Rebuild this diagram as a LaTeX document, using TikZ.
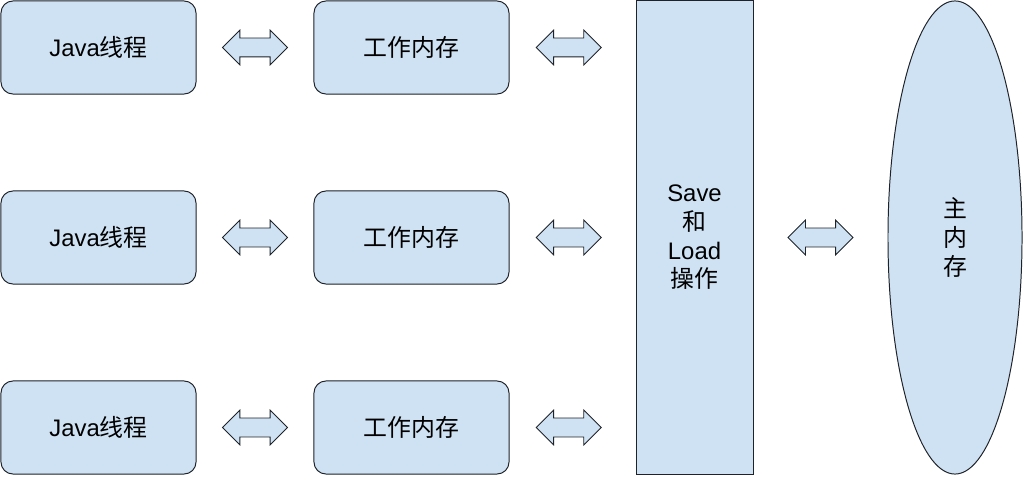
\documentclass[tikz,border=0pt]{standalone}
\usepackage{fontspec}
\setmainfont{Liberation Sans}
\newfontfamily\cjk{Noto Sans CJK SC}
\usepackage{tikz}
\usetikzlibrary{shapes.geometric,shapes.arrows,calc}
\definecolor{boxfill}{HTML}{CFE2F3}
\definecolor{boxline}{HTML}{1F2329}

\begin{document}
\begin{tikzpicture}[
    x=0.025cm,y=-0.025cm,
    font=\fontsize{17}{20.4}\selectfont,
    thread/.style={draw=boxline,fill=boxfill,line width=0.7pt,rounded corners=0.3cm,align=center,minimum width=4.875cm,minimum height=2.325cm,inner sep=0pt},
    ops/.style={draw=boxline,fill=boxfill,line width=0.7pt,align=center,minimum width=2.925cm,minimum height=11.825cm,inner sep=0pt},
    mem/.style={ellipse,draw=boxline,fill=boxfill,line width=0.7pt,align=center,minimum width=3.35cm,minimum height=11.825cm,inner sep=0pt,font=\fontsize{17}{20.4}\selectfont\cjk},
    link/.style={double arrow,draw=boxline,fill=boxfill,line width=0.6pt,double arrow head extend=0.2cm,inner xsep=0pt,inner ysep=0.225cm,minimum height=1.625cm}
]
\useasboundingbox (0,0) rectangle (1026,478);
\node[thread] (java1) at (98.5,47.5) {Java{\cjk 线程}};
\node[thread] (java2) at (98.5,237.5) {Java{\cjk 线程}};
\node[thread] (java3) at (98.5,427.5) {Java{\cjk 线程}};
\node[thread] (work1) at (411.5,47.5) {\cjk 工作内存};
\node[thread] (work2) at (411.5,237.5) {\cjk 工作内存};
\node[thread] (work3) at (411.5,427.5) {\cjk 工作内存};
\node[ops] (saveload) at (694.5,237.5) {Save\\{\cjk 和}\\Load\\{\cjk 操作}};
\node[mem] (mainmem) at (955,237.5) {主\\内\\存};
% block arrows between the columns
\foreach \i in {1,2,3}{
  \node[link] (a\i) at ($(java\i.east)!0.5!(work\i.west)$) {};
  \node[link] (b\i) at ($(work\i.east)!0.47!(work\i.east-|saveload.west)$) {};
}
\node[link] (c) at ($(saveload.east)!0.5!(mainmem.west)$) {};
\end{tikzpicture}
\end{document}
